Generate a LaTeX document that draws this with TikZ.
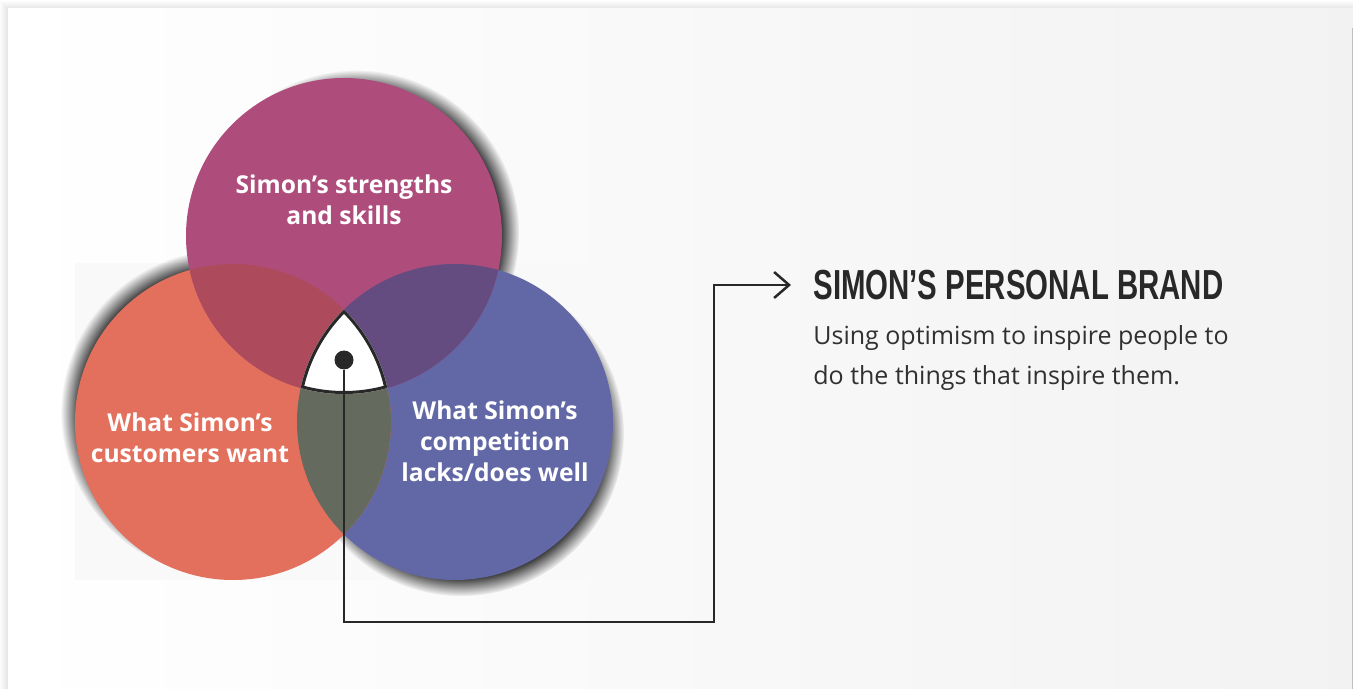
\documentclass[tikz,border=0pt]{standalone}
\usepackage{fontspec}
\setmainfont{Open Sans}
\newfontfamily\titrefont[FakeStretch=0.7]{Liberation Sans}
\usetikzlibrary{arrows.meta, positioning, shadows}
\definecolor{Magenta}{RGB}{174,77,124}
\definecolor{Corail}{RGB}{227,112,93}
\definecolor{Indigo}{RGB}{98,104,166}
\definecolor{MagCor}{RGB}{173,75,93}
\definecolor{MagInd}{RGB}{100,76,128}
\definecolor{CorInd}{RGB}{100,106,94}
\definecolor{Encre}{RGB}{40,40,40}
\definecolor{Texte}{RGB}{48,48,48}
\tikzset{ombre/.style={circular drop shadow={shadow scale=1.03, fill=black,
  opacity=1, #1}}}
\tikzset{etiq/.style={text=white, align=center, inner sep=0pt,
  font=\fontsize{12.3}{15.5}\selectfont\bfseries}}
\tikzset{fl/.style={-{Straight Barb[length=7.5pt, width=13pt]}, draw=Encre,
  line width=1.25pt}}

\begin{document}
\begin{tikzpicture}[x=0.5pt, y=-0.5pt]
\useasboundingbox (0,0) rectangle (1353,689);
% cadre
\fill[white] (0,0) rectangle (1353,689);
\foreach \d in {1,...,8}
  \fill[black, opacity=0.012] (8-\d,9-\d) rectangle (1353,689);
\shade[left color=white, right color=black!5] (8,9) rectangle (1353,689);
\draw[black!25, line width=0.5pt] (1352,28) -- (1352,689);
\fill[black!2.5] (75,263) rectangle (614,580);
% les trois cercles
\coordinate (haut) at (344,236);
\coordinate (gauche) at (233,422);
\coordinate (droite) at (455,422);
\path[ombre={shadow xshift=6pt, shadow yshift=1.5pt}] (haut) circle (158);
\path[ombre={shadow xshift=-4.5pt, shadow yshift=4.5pt}] (gauche) circle (158);
\path[ombre={shadow xshift=3pt, shadow yshift=-5.5pt}] (droite) circle (158);
\fill[Indigo] (droite) circle (158);
\fill[Corail] (gauche) circle (158);
\fill[Magenta] (haut) circle (158);
\begin{scope}
  \clip (haut) circle (158);
  \fill[MagCor] (gauche) circle (158);
  \fill[MagInd] (droite) circle (158);
\end{scope}
\begin{scope}
  \clip (gauche) circle (158);
  \fill[CorInd] (droite) circle (158);
\end{scope}
\begin{scope}
  \clip (haut) circle (158);
  \clip (gauche) circle (158);
  \clip (droite) circle (158);
  \fill[white] (haut) circle (158);
  \draw[Encre, line width=3pt] (haut) circle (158) (gauche) circle (158)
    (droite) circle (158);
\end{scope}
\node[etiq] (forces) at (344,200) {Simon’s strengths\\and skills};
\node[etiq] (clients) at (190,438) {What Simon’s\\customers want};
\node[etiq] (concur) at (495,441) {What Simon’s\\competition\\lacks/does well};
% marque
\node[circle, fill=Encre, minimum size=9.5pt, inner sep=0pt] (coeur) at (344,360) {};
\node[anchor=west, inner sep=0pt, text=Encre,
  font=\titrefont\bfseries\fontsize{21}{21}\selectfont] (marque) at (813,285)
  {SIMON’S PERSONAL BRAND};
\node[below right=12.5pt and 0pt of marque.south west, inner sep=0pt, text=Texte,
  align=left, font=\fontsize{12.5}{20}\selectfont] (devise)
  {Using optimism to inspire people to\\do the things that inspire them.};
\coordinate (coude) at (714,622);
\draw[fl, shorten >=11pt] (coeur) |- (coude) |- (marque.west);
\end{tikzpicture}
\end{document}
